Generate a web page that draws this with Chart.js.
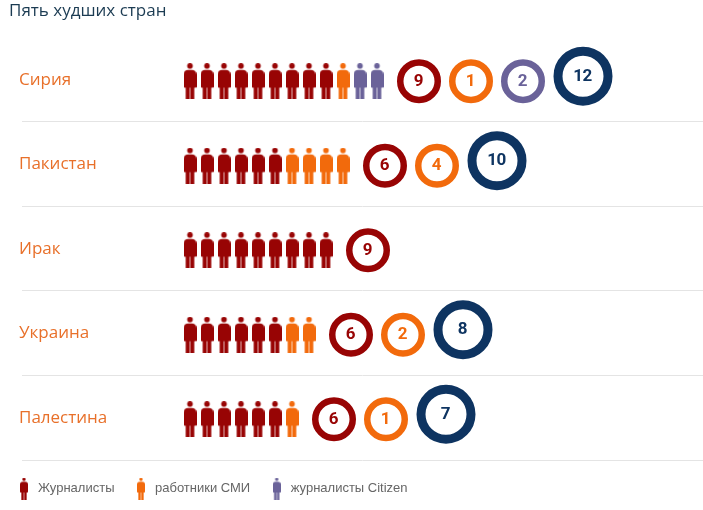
<!DOCTYPE html>
<html>
<head>
<meta charset="utf-8">
<style>
body { margin: 0; background: #fff; }
canvas { display: block; }
</style>
<script src="https://cdn.jsdelivr.net/npm/chart.js@4/dist/chart.umd.min.js"></script>
</head>
<body>
<canvas id="worstChart" width="703" height="510"></canvas>
<script>
const chartTitle = 'Пять худших стран';
const countries = ['Сирия', 'Пакистан', 'Ирак', 'Украина', 'Палестина'];
const journalists = [9, 6, 9, 6, 6];
const mediaWorkers = [1, 4, 0, 2, 1];
const citizenJournalists = [2, 0, 0, 0, 0];
const totals = [12, 10, 9, 8, 7];
const legendLabels = ['Журналисты', 'работники СМИ', 'журналисты Citizen'];

const RED = '#980404';
const ORANGE = '#f26a0c';
const PURPLE = '#6a6299';
const NAVY = '#0e3461';

// one slot on the x axis is the width of one person
const ROW_PX = 84.5;
const SLOT_PX = 17;

// Person icon used as a point style
function personIcon(color, scale) {
    const c = document.createElement('canvas');
    c.width = Math.round(13 * scale);
    c.height = Math.round(36 * scale);
    const g = c.getContext('2d');
    g.scale(c.width / 13, c.height / 36);
    g.fillStyle = color;
    g.beginPath();
    g.arc(6.5, 2.8, 2.8, 0, Math.PI * 2);
    g.fill();
    g.beginPath();
    g.roundRect(0, 6.8, 13, 17.7, [4.5, 4.5, 1, 1]);
    g.fill();
    g.fillRect(2.2, 24, 3.8, 12);
    g.fillRect(7, 24, 3.8, 12);
    g.globalAlpha = 0.3;
    g.fillRect(6, 24, 1, 12);
    return c;
}

// Build the points from the counts
const peoplePoints = [[], [], []];
const ringPoints = [[], [], [], []];
countries.forEach((name, row) => {
    const counts = [journalists[row], mediaWorkers[row], citizenJournalists[row]];
    let slot = 0;
    counts.forEach((count, kind) => {
        for (let i = 0; i < count; i++) {
            peoplePoints[kind].push({ x: slot, y: row + 1.5 / ROW_PX });
            slot++;
        }
    });
    let ringX = slot - 1 + 42 / SLOT_PX;
    let rings = 0;
    counts.forEach((count, kind) => {
        if (count > 0) {
            ringPoints[kind].push({ x: ringX, y: row + 1.5 / ROW_PX, label: count });
            ringX += 52 / SLOT_PX;
            rings++;
        }
    });
    if (rings > 1) {
        ringPoints[3].push({ x: ringX + 8 / SLOT_PX, y: row - 3.5 / ROW_PX, label: totals[row] });
    }
});

function peopleDataset(label, points, color) {
    return {
        label: label,
        data: points,
        yAxisID: 'yRow',
        pointStyle: personIcon(color, 1),
        pointRadius: 18,
        pointHoverRadius: 18,
        legendIcon: personIcon(color, 0.6),
        showLine: false
    };
}

function ringDataset(points, color, radius, width) {
    return {
        label: 'ring',
        data: points,
        yAxisID: 'yRow',
        pointStyle: 'circle',
        pointRadius: radius,
        pointHoverRadius: radius,
        borderWidth: width,
        borderColor: color,
        backgroundColor: '#fff',
        ringText: color,
        showLine: false
    };
}

// Numbers inside the rings
const ringLabels = {
    id: 'ringLabels',
    afterDatasetsDraw(chart) {
        const ctx = chart.ctx;
        ctx.save();
        ctx.textAlign = 'center';
        ctx.textBaseline = 'middle';
        ctx.font = 'bold 17px Roboto';
        ctx.letterSpacing = '-0.5px';
        chart.data.datasets.forEach((ds, i) => {
            if (!ds.ringText) return;
            ctx.fillStyle = ds.ringText;
            chart.getDatasetMeta(i).data.forEach((el, j) => {
                ctx.fillText(ds.data[j].label, el.x - 0.5, el.y + 0.5);
            });
        });
        ctx.restore();
    }
};

// Legend sits a little further left than the layout puts it
const legendShift = {
    id: 'legendShift',
    afterLayout(chart) {
        chart.legend.left -= 11.5;
        chart.legend.top += 3;
    }
};

const ctx = document.getElementById('worstChart').getContext('2d');
new Chart(ctx, {
    type: 'scatter',
    data: {
        datasets: [
            peopleDataset(legendLabels[0], peoplePoints[0], RED),
            peopleDataset(legendLabels[1], peoplePoints[1], ORANGE),
            peopleDataset(legendLabels[2], peoplePoints[2], PURPLE),
            ringDataset(ringPoints[0], RED, 18.75, 6.5),
            ringDataset(ringPoints[1], ORANGE, 18.75, 6.5),
            ringDataset(ringPoints[2], PURPLE, 18.75, 6.5),
            ringDataset(ringPoints[3], NAVY, 25, 9)
        ]
    },
    plugins: [ringLabels, legendShift],
    options: {
        responsive: false,
        animation: false,
        layout: { autoPadding: false, padding: { left: 9, right: 0, top: 0, bottom: 8 } },
        scales: {
            x: {
                type: 'linear',
                display: false,
                min: -168 / SLOT_PX,
                max: 513 / SLOT_PX
            },
            yRow: {
                type: 'linear',
                display: false,
                reverse: true,
                min: -0.5,
                max: 4.5
            },
            y: {
                type: 'category',
                labels: countries,
                offset: true,
                border: { display: false },
                afterFit(scale) { scale.width = 13; },
                grid: {
                    drawTicks: false,
                    offset: true,
                    color: (c) => (c.index === 0 ? 'rgba(0,0,0,0)' : '#e4e4e4')
                },
                ticks: {
                    mirror: true,
                    padding: -3,
                    autoSkip: false,
                    color: '#e8702a',
                    font: { family: 'Open Sans', size: 17 }
                }
            }
        },
        plugins: {
            tooltip: { enabled: false },
            title: {
                display: true,
                text: chartTitle,
                align: 'start',
                color: '#1b3b52',
                font: { family: 'Open Sans', size: 17, weight: 'normal' },
                padding: { top: 1, bottom: 16 }
            },
            legend: {
                position: 'bottom',
                align: 'start',
                onClick: null,
                labels: {
                    usePointStyle: true,
                    pointStyleWidth: 15,
                    padding: 19,
                    color: '#666',
                    font: { family: 'Liberation Sans', size: 13 },
                    generateLabels(chart) {
                        return legendLabels.map((text, i) => ({
                            text: text,
                            datasetIndex: i,
                            pointStyle: chart.data.datasets[i].legendIcon,
                            fontColor: '#666',
                            lineWidth: 0
                        }));
                    }
                }
            }
        }
    }
});
</script>
</body>
</html>
